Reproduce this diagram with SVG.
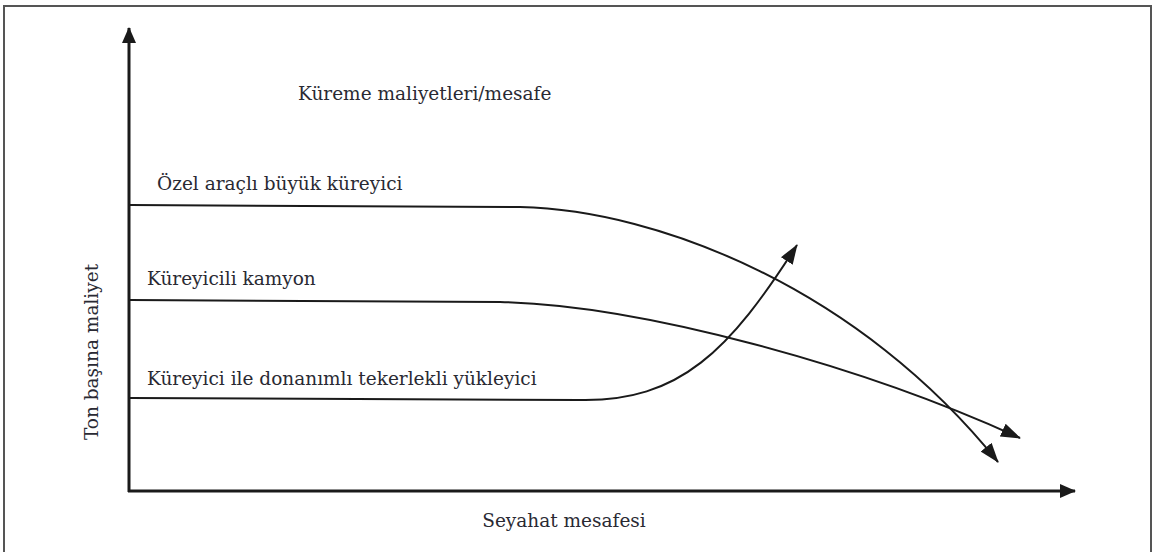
<svg xmlns="http://www.w3.org/2000/svg" width="1153" height="552" viewBox="0 0 1153 552">
<style>
.t{font-family:"DejaVu Serif","Liberation Serif",serif;font-size:18.5px;fill:#2a2a33}
.ln{fill:none;stroke:#1a1a1a;stroke-width:2}
.ax{fill:none;stroke:#1a1a1a;stroke-width:3}
</style>
<defs>
<marker id="ahx" markerWidth="16" markerHeight="14" refX="15" refY="7" orient="auto" markerUnits="userSpaceOnUse" viewBox="0 0 16 14">
<path d="M0,0 L16,7 L0,14 Z" fill="#1a1a1a"/>
</marker>
<marker id="ahc" markerWidth="20" markerHeight="14" refX="19" refY="7" orient="auto" markerUnits="userSpaceOnUse" viewBox="0 0 20 14">
<path d="M0,0 L20,7 L0,14 Z" fill="#1a1a1a"/>
</marker>
</defs>
<rect x="4" y="6" width="1147" height="570" fill="#fff" stroke="#555" stroke-width="2"/>
<g id="axes">
<line class="ax" x1="129" y1="492" x2="129" y2="28" marker-end="url(#ahx)"/>
<line class="ax" x1="128" y1="491" x2="1075" y2="491" marker-end="url(#ahx)"/>
</g>
<g id="connectors">
<path class="ln" d="M130,205 L520,207 C660,210 860,290 998,462" marker-end="url(#ahc)"/>
<path class="ln" d="M130,300 L500,302 C640,305 860,365 1020,438" marker-end="url(#ahc)"/>
<path class="ln" d="M130,398 L580,400 C680,402 730,350 797,245" marker-end="url(#ahc)"/>
</g>
<g id="title"><text class="t" x="298" y="100">Küreme maliyetleri/mesafe</text></g>
<g id="n1"><text class="t" x="157" y="190">Özel araçlı büyük küreyici</text></g>
<g id="n2"><text class="t" x="147" y="285">Küreyicili kamyon</text></g>
<g id="n3"><text class="t" x="147" y="385">Küreyici ile donanımlı tekerlekli yükleyici</text></g>
<g id="ylabel"><text class="t" x="0" y="0" text-anchor="middle" transform="translate(98,352) rotate(-90)">Ton başına maliyet</text></g>
<g id="xlabel"><text class="t" x="564" y="527" text-anchor="middle">Seyahat mesafesi</text></g>
</svg>
